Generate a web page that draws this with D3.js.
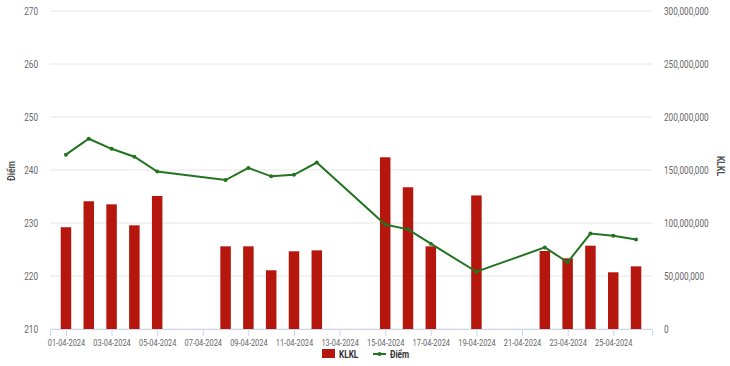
<!DOCTYPE html>
<html>
<head>
<meta charset="utf-8">
<script src="https://cdn.jsdelivr.net/npm/d3@7"></script>
<style>
  body { margin: 0; background: #fff; }
  text { font-family: Roboto, "Noto Sans", sans-serif; }
</style>
</head>
<body>
<div id="chart"></div>
<script>
const width = 730;
const height = 366;
const margin = { left: 50, top: 11, right: 78, bottom: 37 };
const chartWidth = width - margin.left - margin.right;
const chartHeight = height - margin.top - margin.bottom;

// day of April 2024
const days = [1, 2, 3, 4, 5, 8, 9, 10, 11, 12, 15, 16, 17, 19, 22, 23, 24, 25, 26];
const klkl = [96e6, 120.5e6, 117.6e6, 97.8e6, 125.5e6, 78e6, 78e6, 55.4e6, 73.3e6, 74.2e6,
  162e6, 133.7e6, 78e6, 126e6, 73.6e6, 66.7e6, 78.6e6, 53.5e6, 59.1e6];
const diem = [242.9, 245.9, 244.0, 242.5, 239.7, 238.1, 240.4, 238.8, 239.1, 241.4,
  229.7, 228.8, 226.1, 220.8, 225.4, 222.6, 228.0, 227.6, 226.9];
const xTicks = [1, 3, 5, 7, 9, 11, 13, 15, 17, 19, 21, 23, 25];
const leftTicks = [210, 220, 230, 240, 250, 260, 270];
const rightTicks = [0, 50e6, 100e6, 150e6, 200e6, 250e6, 300e6];

const barColor = "#b5170f";
const lineColor = "#237320";
const labelColor = "#666";

let svg;
let xScale;
let yLeft;
let yRight;

// the original uses a narrow font: squeeze text horizontally
function condense(sel, f = 0.78) {
  sel.each(function () {
    const w = this.getComputedTextLength();
    d3.select(this).attr("textLength", w * f).attr("lengthAdjust", "spacingAndGlyphs");
  });
}

function createChart() {
  svg = d3.select("#chart").append("svg")
    .attr("width", width).attr("height", height)
    .append("g")
    .attr("transform", `translate(${margin.left},${margin.top})`);

  xScale = d3.scaleLinear().domain([0.3, 26.7]).range([0, chartWidth]);
  yLeft = d3.scaleLinear().domain([210, 270]).range([chartHeight, 0]);
  yRight = d3.scaleLinear().domain([0, 300e6]).range([chartHeight, 0]);

  // gridlines
  svg.append("g")
    .selectAll("line")
    .data(leftTicks)
    .join("line")
    .attr("x1", 0).attr("x2", chartWidth)
    .attr("y1", (d) => yLeft(d)).attr("y2", (d) => yLeft(d))
    .attr("stroke", "#e6e6e6");

  // x axis
  const fmt = (d) => String(d).padStart(2, "0") + "-04-2024";
  const xAxis = svg.append("g")
    .attr("transform", `translate(0,${chartHeight})`)
    .call(d3.axisBottom(xScale).tickValues(xTicks).tickFormat(fmt).tickSize(7).tickPadding(3));
  xAxis.select(".domain").attr("stroke", "#ccd6eb");
  xAxis.selectAll(".tick line").attr("stroke", "#ccd6eb");
  xAxis.selectAll("text").attr("fill", labelColor).style("font-size", "9.5px").call(condense);

  // left axis
  const la = svg.append("g")
    .call(d3.axisLeft(yLeft).tickValues(leftTicks).tickSize(0).tickPadding(12));
  la.select(".domain").remove();
  la.selectAll("text").attr("fill", labelColor).style("font-size", "10.5px").call(condense);

  // right axis
  const ra = svg.append("g")
    .attr("transform", `translate(${chartWidth},0)`)
    .call(d3.axisRight(yRight).tickValues(rightTicks).tickFormat(d3.format(",")).tickSize(0).tickPadding(12));
  ra.select(".domain").remove();
  ra.selectAll("text").attr("fill", labelColor).style("font-size", "10.5px").call(condense);

  // axis titles
  svg.append("text")
    .attr("transform", `translate(${11 - margin.left},${171 - margin.top}) rotate(-90)`)
    .attr("text-anchor", "middle").attr("dy", "0.35em")
    .attr("fill", "#555").style("font-size", "11px").style("font-weight", "bold")
    .text("Điểm").call(condense);
  svg.append("text")
    .attr("transform", `translate(${721 - margin.left},${166 - margin.top}) rotate(90)`)
    .attr("text-anchor", "middle").attr("dy", "0.35em")
    .attr("fill", "#555").style("font-size", "11px").style("font-weight", "bold")
    .text("KLKL").call(condense);

  // bars
  const barW = 10.5;
  svg.append("g")
    .selectAll("rect")
    .data(days)
    .join("rect")
    .attr("x", (d) => xScale(d) - barW / 2)
    .attr("y", (d, i) => yRight(klkl[i]))
    .attr("width", barW)
    .attr("height", (d, i) => chartHeight - yRight(klkl[i]))
    .attr("fill", barColor);

  // line
  const line = d3.line()
    .x((d) => xScale(d))
    .y((d, i) => yLeft(diem[i]));
  svg.append("path")
    .datum(days)
    .attr("d", line)
    .attr("fill", "none")
    .attr("stroke", lineColor)
    .attr("stroke-width", 2);
  svg.append("g")
    .selectAll("circle")
    .data(days)
    .join("circle")
    .attr("cx", (d) => xScale(d))
    .attr("cy", (d, i) => yLeft(diem[i]))
    .attr("r", 2)
    .attr("fill", lineColor);

  // legend
  const lg = svg.append("g").attr("transform", `translate(${-margin.left},${-margin.top})`);
  lg.append("rect").attr("x", 322).attr("y", 349).attr("width", 13).attr("height", 9).attr("fill", barColor);
  lg.append("text").attr("x", 339).attr("y", 358).attr("fill", "#333")
    .style("font-size", "10.5px").style("font-weight", "bold").text("KLKL").call(condense);
  lg.append("line").attr("x1", 373).attr("x2", 386).attr("y1", 354).attr("y2", 354)
    .attr("stroke", lineColor).attr("stroke-width", 2);
  lg.append("circle").attr("cx", 379.5).attr("cy", 354).attr("r", 2).attr("fill", lineColor);
  lg.append("text").attr("x", 390).attr("y", 358).attr("fill", "#333")
    .style("font-size", "10.5px").style("font-weight", "bold").text("Điểm").call(condense);
}

createChart();
</script>
</body>
</html>
